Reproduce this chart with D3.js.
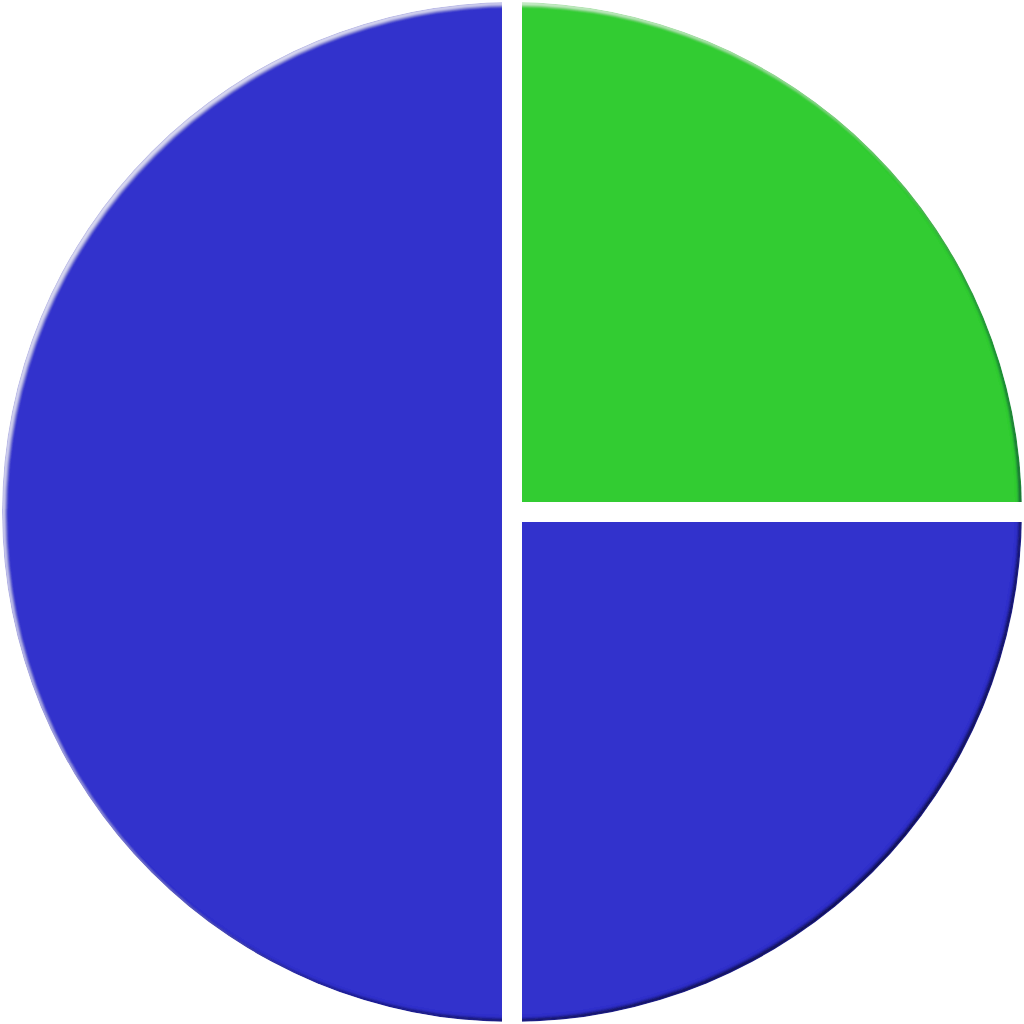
<!DOCTYPE html>
<html><head><meta charset="utf-8">
<script src="https://cdn.jsdelivr.net/npm/d3@7"></script>
<style>html,body{margin:0;padding:0;background:#fff;}svg{display:block;}</style>
</head><body>
<script>
const categories = ["A", "B", "C"];
const values = [25, 25, 50];
const colors = ["#33cc33", "#3333cc", "#3333cc"];

const W = 1024, H = 1024, cx = 512, cy = 512, R = 510, gap = 20;
const svg = d3.select("body").append("svg").attr("width", W).attr("height", H);
const defs = svg.append("defs");
const f = defs.append("filter").attr("id", "bevel")
  .attr("x", "-5%").attr("y", "-5%").attr("width", "110%").attr("height", "110%");
f.append("feGaussianBlur").attr("in", "SourceAlpha").attr("stdDeviation", 1.2).attr("result", "blur");
f.append("feOffset").attr("in", "blur").attr("dx", -3).attr("dy", -3).attr("result", "offD");
f.append("feComposite").attr("in", "SourceAlpha").attr("in2", "offD").attr("operator", "out").attr("result", "rimD");
f.append("feGaussianBlur").attr("in", "rimD").attr("stdDeviation", 0.8).attr("result", "rimDb");
f.append("feFlood").attr("flood-color", "#0b0b3a").attr("result", "colD");
f.append("feComposite").attr("in", "colD").attr("in2", "rimDb").attr("operator", "in").attr("result", "dark");
f.append("feOffset").attr("in", "blur").attr("dx", 3).attr("dy", 3).attr("result", "offL");
f.append("feComposite").attr("in", "SourceAlpha").attr("in2", "offL").attr("operator", "out").attr("result", "rimL");
f.append("feGaussianBlur").attr("in", "rimL").attr("stdDeviation", 0.8).attr("result", "rimLb");
f.append("feFlood").attr("flood-color", "#ffffff").attr("flood-opacity", 0.75).attr("result", "colL");
f.append("feComposite").attr("in", "colL").attr("in2", "rimLb").attr("operator", "in").attr("result", "light");
const m = f.append("feMerge").attr("result", "merged");
m.append("feMergeNode").attr("in", "SourceGraphic");
m.append("feMergeNode").attr("in", "dark");
m.append("feMergeNode").attr("in", "light");
f.append("feComposite").attr("in", "merged").attr("in2", "SourceAlpha").attr("operator", "in");

const data = categories.map((c, i) => ({ cat: c, value: values[i], color: colors[i] }));
const pie = d3.pie().value(d => d.value).sort(null);
const arcs = pie(data);
const arc = d3.arc().innerRadius(0).outerRadius(R);

const g = svg.append("g").attr("transform", `translate(${cx},${cy})`);
g.append("g").attr("filter", "url(#bevel)")
  .selectAll("path").data(arcs).join("path")
  .attr("d", arc).attr("fill", d => d.data.color);

// white separators along slice boundaries
g.append("g").selectAll("line").data(arcs).join("line")
  .attr("x1", d => -Math.sin(d.startAngle) * gap / 2 * 0)
  .attr("y1", 0)
  .attr("x2", d => Math.sin(d.startAngle) * (R + 20))
  .attr("y2", d => -Math.cos(d.startAngle) * (R + 20))
  .attr("stroke", "#fff").attr("stroke-width", gap).attr("stroke-linecap", "square");
</script>
</body></html>
